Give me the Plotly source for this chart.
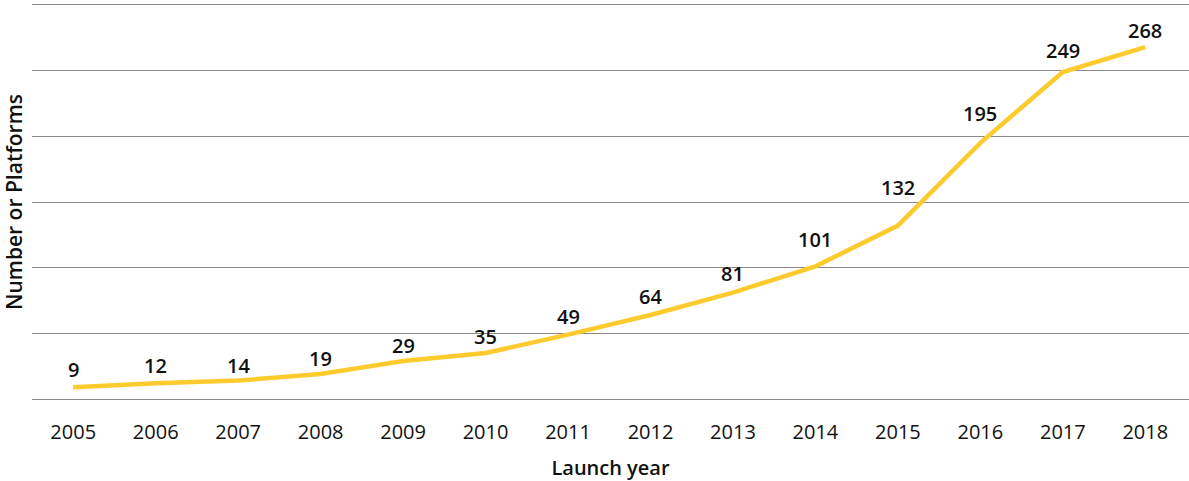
import plotly.graph_objects as go

years = [2005, 2006, 2007, 2008, 2009, 2010, 2011, 2012, 2013, 2014, 2015, 2016, 2017, 2018]
platforms = [9, 12, 14, 19, 29, 35, 49, 64, 81, 101, 132, 195, 249, 268]
y_ticks = [0, 50, 100, 150, 200, 250, 300]

# label lift above each point (pixels) - styling only
label_lift = [18, 18, 15, 16, 15, 17, 18, 18, 19, 27, 38, 29, 21, 17]

GRID = "#8f8686"

fig = go.Figure()
fig.add_trace(go.Scatter(
    x=years, y=platforms, mode="lines",
    line=dict(color="#FDCB2E", width=4.5),
    cliponaxis=False, hoverinfo="skip",
))

for x, y, lift in zip(years, platforms, label_lift):
    fig.add_annotation(
        x=x, y=y, text=str(y), showarrow=False,
        xanchor="center", yanchor="middle", yshift=lift,
        font=dict(family="Open Sans", size=20, color="#111111", weight=600),
    )

fig.update_layout(
    width=1189, height=481,
    margin=dict(l=32, r=0, t=5, b=82),
    plot_bgcolor="white", paper_bgcolor="white",
    showlegend=False,
    font=dict(family="Open Sans", color="#111111"),
)
fig.update_xaxes(
    range=[2004.5, 2018.53], tickvals=years, ticktext=[str(y) for y in years],
    showgrid=False, zeroline=False, ticks="",
    showline=True, mirror=True, linecolor=GRID, linewidth=1.2,
    ticklabelstandoff=15,
    tickfont=dict(size=20, color="#111111"),
    title=dict(text="Launch year", font=dict(size=20, weight=600), standoff=19),
)
fig.update_yaxes(
    range=[0, 300], tickvals=y_ticks, showticklabels=False,
    showgrid=True, gridcolor=GRID, gridwidth=1.2, zeroline=False, ticks="",
    showline=False,
    title=dict(text="Number or Platforms", font=dict(size=21, weight=600), standoff=5),
)

fig.write_html("out.html", config={"displayModeBar": False},
               post_script="document.body.style.margin='0';document.body.style.padding='0';")
